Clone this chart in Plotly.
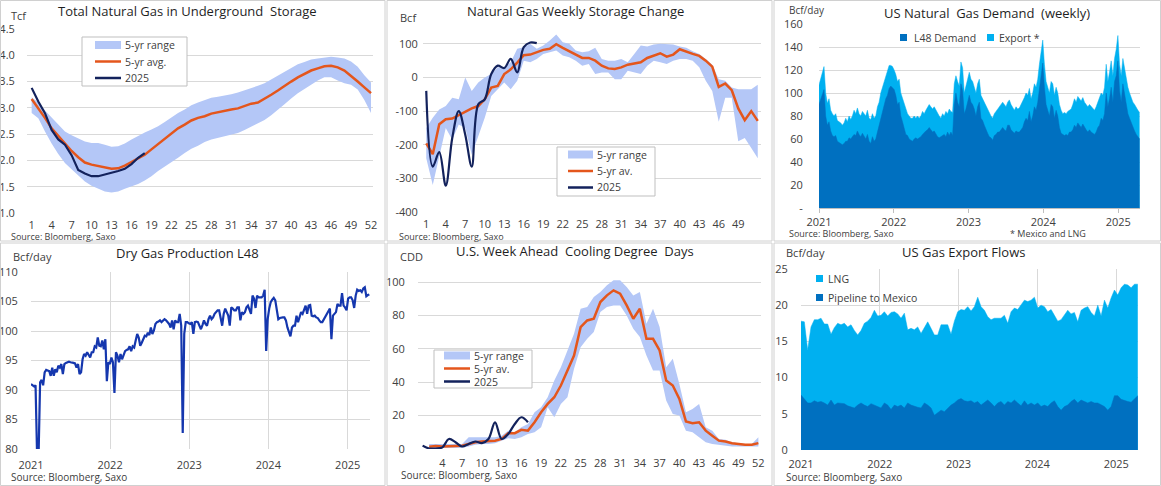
import numpy as np
import pandas as pd
import plotly.graph_objects as go

W, H = 1161, 486
FONT = "Open Sans"
TXT = "#404040"
TITLE = "#1F1F1F"
GRID = "#D9D9D9"
BAND = "#B4C7F7"
ORANGE = "#E4561C"
NAVY = "#13225C"
PROD = "#1537AE"
DARK = "#0070C0"
LIGHT = "#00B0F0"

# ---------------- data ----------------
weeks = list(range(1, 53))

# Total natural gas in underground storage (Tcf)
stor_avg = [3.17, 3.00, 2.81, 2.61, 2.46, 2.31, 2.18, 2.06, 1.96, 1.92,
            1.89, 1.86, 1.84, 1.85, 1.90, 1.97, 2.04, 2.11, 2.21, 2.31,
            2.40, 2.51, 2.61, 2.68, 2.76, 2.81, 2.84, 2.89, 2.92, 2.94,
            2.97, 2.99, 3.04, 3.08, 3.10, 3.17, 3.25, 3.33, 3.42, 3.50,
            3.58, 3.65, 3.71, 3.75, 3.79, 3.80, 3.77, 3.71, 3.61, 3.50,
            3.39, 3.28]
stor_hi = [3.20, 3.10, 2.95, 2.82, 2.68, 2.55, 2.48, 2.42, 2.36, 2.33,
           2.33, 2.30, 2.26, 2.27, 2.32, 2.40, 2.47, 2.53, 2.59, 2.65,
           2.73, 2.82, 2.90, 2.97, 3.05, 3.10, 3.14, 3.19, 3.21, 3.23,
           3.26, 3.29, 3.33, 3.38, 3.42, 3.47, 3.54, 3.61, 3.68, 3.76,
           3.83, 3.87, 3.92, 3.94, 3.95, 3.97, 3.96, 3.94, 3.88, 3.78,
           3.62, 3.48]
stor_lo = [2.90, 2.80, 2.55, 2.32, 2.12, 1.95, 1.83, 1.72, 1.60, 1.52,
           1.46, 1.41, 1.39, 1.41, 1.46, 1.50, 1.55, 1.62, 1.70, 1.80,
           1.88, 1.96, 2.05, 2.14, 2.22, 2.28, 2.35, 2.40, 2.43, 2.47,
           2.50, 2.52, 2.58, 2.64, 2.70, 2.77, 2.86, 2.96, 3.07, 3.18,
           3.28, 3.36, 3.44, 3.52, 3.58, 3.58, 3.52, 3.47, 3.44, 3.35,
           3.15, 2.90]
stor_2025 = [3.38, 3.12, 2.90, 2.58, 2.40, 2.30, 2.10, 1.82, 1.75, 1.70,
             1.70, 1.73, 1.76, 1.80, 1.84, 1.93, 2.05, 2.14]

# Weekly storage change (Bcf)
chg_avg = [-196, -228, -139, -124, -122, -112, -102, -92, -85, -65,
           -30, -25, 10, 24, 44, 66, 68, 76, 82, 85,
           99, 88, 78, 68, 58, 58, 50, 35, 27, 25,
           30, 38, 42, 45, 58, 64, 72, 62, 68, 84,
           76, 70, 64, 50, 32, -28, -18, -38, -92, -127,
           -100, -129]
chg_hi = [-150, -120, -95, -85, -60, -65, 0, -40, -15, 0,
          10, 30, 30, 45, 85, 90, 100, 85, 95, 110,
          128, 105, 100, 80, 75, 78, 88, 55, 50, 50,
          55, 45, 70, 95, 92, 98, 100, 98, 98, 92,
          88, 78, 70, 55, 38, -5, -10, -30, -35, -35,
          -35, -22]
chg_lo = [-240, -320, -235, -150, -185, -140, -150, -230, -175, -120,
          -55, -35, -15, -35, -10, 50, 45, 55, 70, 75,
          80, 65, 60, 50, 35, 40, 10, 15, 15, -5,
          -5, 20, 15, 10, 35, 50, 45, 40, 50, 55,
          55, 50, 30, -10, -40, -132, -60, -60, -190, -180,
          -210, -240]
chg_2025 = [-40, -265, -222, -322, -180, -100, -170, -265, -80, -65,
            10, 35, 28, 55, 15, 90, 104, 102]

# US natural gas demand, weekly samples Jan-2021 .. mid-Apr-2025 (Bcf/day)
dem_total = [107, 112, 116, 123, 100, 91, 95, 85, 82, 80,
             82, 76, 75, 74, 72, 74, 78, 75, 80, 77,
             80, 85, 82, 87, 82, 80, 84, 82, 80, 85,
             78, 77, 82, 78, 80, 88, 92, 100, 105, 110,
             115, 120, 124, 124, 123, 120, 116, 110, 112, 100,
             95, 90, 85, 82, 80, 78, 78, 80, 78, 80,
             78, 80, 84, 82, 85, 88, 90, 88, 86, 88,
             85, 83, 80, 78, 82, 80, 84, 82, 86, 84,
             83, 108, 115, 110, 106, 127, 122, 100, 105, 112,
             118, 112, 110, 105, 100, 108, 112, 98, 95, 92,
             88, 85, 82, 80, 78, 82, 84, 86, 88, 90,
             92, 90, 88, 92, 94, 90, 88, 85, 88, 86,
             87, 90, 92, 96, 100, 98, 104, 95, 100, 108,
             105, 112, 125, 135, 146, 125, 110, 105, 100, 110,
             108, 98, 105, 100, 90, 85, 82, 83, 82, 84,
             85, 86, 90, 95, 92, 97, 95, 93, 96, 92,
             90, 88, 90, 88, 86, 85, 88, 92, 95, 100,
             98, 105, 125, 110, 118, 128, 115, 130, 138, 150,
             125, 115, 130, 122, 112, 105, 100, 96, 92, 90,
             87, 85, 83]
dem_l48 = [90, 95, 98, 103, 80, 72, 75, 67, 63, 62,
           63, 58, 57, 56, 55, 56, 58, 58, 61, 60,
           62, 64, 63, 67, 64, 62, 65, 62, 60, 64,
           58, 56, 62, 58, 60, 66, 72, 78, 82, 88,
           95, 98, 104, 106, 104, 103, 98, 90, 92, 80,
           75, 70, 64, 63, 60, 59, 58, 60, 61, 60,
           61, 62, 64, 66, 67, 68, 70, 68, 66, 67,
           64, 62, 61, 62, 63, 64, 62, 66, 63, 66,
           63, 90, 100, 92, 88, 108, 102, 82, 86, 93,
           98, 92, 90, 86, 80, 88, 92, 78, 76, 72,
           68, 65, 62, 61, 59, 63, 64, 66, 66, 68,
           70, 68, 67, 72, 72, 68, 66, 65, 67, 66,
           66, 68, 70, 75, 78, 76, 84, 75, 80, 88,
           85, 92, 105, 115, 126, 105, 90, 85, 80, 90,
           88, 78, 85, 80, 70, 65, 64, 63, 64, 63,
           66, 66, 68, 72, 70, 74, 72, 70, 73, 70,
           68, 66, 68, 66, 65, 64, 66, 70, 72, 78,
           76, 82, 100, 88, 95, 105, 92, 110, 115, 128,
           102, 92, 108, 98, 88, 82, 78, 74, 70, 67,
           64, 62, 60]

# Dry gas production L48, weekly from 2021-01-01 (Bcf/day)
prod = [91.0, 90.8, 90.6, 90.8, 79.0, 79.0, 91.3, 91.7, 90.8, 93.0,
        93.4, 93.3, 93.2, 92.4, 93.8, 92.4, 93.5, 93.0, 94.1, 93.8,
        94.4, 92.7, 94.4, 94.6, 94.7, 94.8, 94.7, 94.7, 94.6, 94.5,
        93.8, 94.4, 92.7, 93.0, 95.2, 96.1, 95.8, 96.4, 95.8, 95.5,
        96.4, 96.4, 97.4, 97.2, 98.9, 97.5, 97.4, 98.4, 96.9, 98.6,
        91.5, 94.7, 94.4, 95.5, 94.7, 89.5, 96.4, 95.8, 94.7, 96.1,
        95.2, 96.0, 96.6, 96.8, 96.9, 97.4, 96.6, 97.4, 97.2, 98.4,
        99.5, 98.9, 97.5, 98.0, 98.6, 99.2, 99.1, 99.7, 99.3, 100.6,
        99.5, 100.1, 101.2, 101.5, 101.6, 101.8, 101.5, 101.8, 102.0, 101.8,
        101.5, 101.2, 100.6, 101.8, 100.3, 101.8, 101.5, 101.5, 102.9, 100.9,
        82.7, 99.5, 101.5, 101.5, 101.3, 101.2, 101.5, 99.5, 101.5, 101.6,
        101.5, 101.0, 100.3, 101.0, 101.8, 101.2, 100.9, 102.0, 102.6, 102.0,
        102.3, 102.9, 103.2, 103.5, 103.5, 102.0, 100.9, 102.9, 103.8, 103.2,
        102.6, 100.9, 104.0, 103.8, 103.5, 103.5, 104.0, 104.0, 101.8, 103.2,
        102.9, 103.2, 104.0, 104.3, 103.5, 102.9, 106.0, 105.5, 103.9, 106.0,
        105.7, 105.7, 105.7, 106.0, 107.0, 96.6, 102.0, 103.8, 104.9, 105.3,
        105.6, 105.2, 103.8, 102.0, 102.2, 102.3, 102.3, 102.3, 101.8, 100.6,
        99.7, 99.1, 100.6, 100.9, 100.9, 102.6, 101.5, 102.3, 103.2, 102.9,
        103.5, 104.3, 102.9, 104.3, 104.4, 102.6, 102.5, 102.6, 102.3, 102.2,
        101.8, 101.5, 101.5, 102.0, 102.5, 102.9, 103.5, 103.8, 98.6, 102.6,
        102.9, 103.2, 104.6, 104.3, 104.3, 106.4, 104.3, 104.0, 103.5, 105.5,
        105.7, 105.7, 105.2, 103.9, 106.0, 107.0, 106.8, 106.9, 106.6, 107.2,
        107.4, 105.9, 106.1, 106.2]

# US gas export flows, samples Jan-2021 .. Apr-2025 (Bcf/day)
exp_total = [17.8, 17.7, 13.8, 17.0, 18.0, 18.0, 18.2, 17.4, 17.4, 16.0,
             16.9, 17.5, 17.3, 17.5, 17.0, 17.3, 16.5, 15.9, 16.5, 17.5,
             17.8, 18.3, 19.3, 18.5, 18.6, 19.1, 18.5, 19.0, 19.1, 18.8,
             18.2, 18.9, 16.6, 16.8, 16.6, 17.0, 16.1, 17.0, 17.7, 16.8,
             15.9, 15.9, 17.3, 17.3, 17.3, 16.0, 17.8, 19.1, 19.4, 19.3,
             19.8, 19.2, 19.8, 21.1, 19.8, 19.3, 18.4, 18.0, 18.2, 18.2,
             18.2, 18.6, 17.5, 19.1, 19.6, 19.4, 20.0, 20.7, 20.5, 20.7,
             21.1, 19.6, 20.0, 19.8, 19.1, 19.4, 18.6, 17.8, 18.0, 18.7,
             19.3, 18.8, 19.0, 17.7, 19.3, 19.6, 19.8, 19.0, 18.5, 20.0,
             18.5, 20.7, 19.6, 21.0, 22.1, 21.4, 22.4, 22.9, 22.8, 22.4,
             22.9, 22.9]
exp_pipe = [7.6, 7.0, 6.5, 6.5, 6.8, 6.6, 6.7, 6.5, 6.2, 6.9,
            6.2, 6.5, 6.5, 6.4, 6.1, 6.0, 5.8, 6.2, 6.5, 6.2,
            6.0, 6.4, 6.2, 6.1, 5.8, 6.5, 6.2, 5.6, 6.2, 6.0,
            6.2, 5.8, 6.5, 6.2, 6.0, 5.9, 5.8, 6.5, 6.2, 5.8,
            4.8, 5.2, 5.5, 5.3, 5.8, 6.2, 6.5, 6.9, 7.1, 6.8,
            6.7, 6.8, 6.5, 6.7, 6.2, 6.5, 6.9, 6.5, 6.0, 6.5,
            6.7, 6.2, 6.7, 6.5, 6.9, 6.5, 6.1, 6.8, 6.2, 6.5,
            6.2, 6.5, 6.0, 6.2, 6.0, 6.5, 6.8, 6.0, 5.5, 6.0,
            6.2, 6.7, 7.0, 6.5, 6.9, 6.7, 6.5, 6.7, 6.5, 6.5,
            6.2, 6.0, 5.5, 6.0, 7.5, 7.5, 7.0, 6.8, 6.7, 6.6,
            7.0, 7.5]

# Week-ahead cooling degree days
cdd_weeks = list(range(2, 53))
cdd_avg = [1.4, 1.8, 1.5, 1.5, 1.8, 2.0,
           3.0, 4.0, 4.5, 4.8, 5.0, 6.0,
           9.5, 9.5, 11.5, 11, 16,
           22, 27, 31, 38, 47, 56, 73, 77, 78, 88,
           92, 95, 93, 86, 78, 84, 66, 66, 59, 41,
           38, 30, 16.5, 15.5, 16, 11, 8, 5, 4.5, 3.5,
           3, 2.5, 2.5, 3.5]
cdd_hi = [3, 3, 3, 3, 3, 3,
          7, 7, 7, 7, 7, 8,
          11, 10, 13, 15, 22,
          25, 31, 41, 49, 59, 69, 84, 85, 91, 94,
          98, 101, 101, 97, 92, 94, 75, 84, 73, 49,
          54, 39, 22, 24, 27, 13, 11, 6, 5.5, 4,
          3.5, 3, 3, 7]
cdd_lo = [0.5, 0.5, 0.5, 0.5, 0.5, 0.8,
          1.5, 2.5, 3, 3, 3.5, 5,
          6.5, 6, 7, 9, 10,
          13, 25, 19, 27, 31, 48, 61, 66, 70, 82,
          85, 86, 86, 80, 72, 67, 56, 47, 47, 29,
          21, 20, 11, 10, 7, 4, 3, 2.5, 2, 1.5,
          1.5, 1.5, 1.5, 1.5]
cdd_2025 = [2, 0.3, 0.3, 1.0, 6, 4, 1.5, 3, 4.5, 3.5, 6, 16, 6, 9, 15, 19, 16]

years = ["2021", "2022", "2023", "2024", "2025"]
year_starts = [y + "-01-01" for y in years]

prod_dates = pd.date_range("2021-01-01", periods=len(prod), freq="7D")
dem_dates = pd.date_range("2021-01-01", "2025-04-15", periods=len(dem_total))
exp_dates = pd.date_range("2021-01-01", "2025-04-11", periods=len(exp_total))


# ---------------- helpers ----------------
def dx(a, b):
    return [a / W, b / W]


def dy(top, bottom):
    return [1 - bottom / H, 1 - top / H]


def px(x):
    return x / W


def py(y):
    return 1 - y / H


TICKF = dict(family=FONT, size=11, color=TXT)

fig = go.Figure()


def band(x, lo, hi, n):
    fig.add_trace(go.Scatter(x=x, y=lo, mode="lines", line=dict(width=0),
                             hoverinfo="skip", xaxis="x" + n, yaxis="y" + n))
    fig.add_trace(go.Scatter(x=x, y=hi, mode="lines", line=dict(width=0),
                             fill="tonexty", fillcolor=BAND,
                             xaxis="x" + n, yaxis="y" + n))


def line(x, y, color, width, n, shape="linear"):
    fig.add_trace(go.Scatter(x=x, y=y, mode="lines",
                             line=dict(color=color, width=width, shape=shape),
                             xaxis="x" + n, yaxis="y" + n))


def area(x, y, color, n):
    fig.add_trace(go.Scatter(x=x, y=y, mode="lines", fill="tozeroy",
                             fillcolor=color, line=dict(color=color, width=0.5),
                             xaxis="x" + n, yaxis="y" + n))


# panel 1: storage
band(weeks, stor_lo, stor_hi, "")
line(weeks, stor_avg, ORANGE, 2.5, "")
line(weeks[:len(stor_2025)], stor_2025, NAVY, 2.2, "")

# panel 2: weekly change
band(weeks, chg_lo, chg_hi, "2")
line(weeks, chg_avg, ORANGE, 2.5, "2")
line(weeks[:len(chg_2025)], chg_2025, NAVY, 2.2, "2", "spline")

# panel 3: demand
area(dem_dates, dem_total, LIGHT, "3")
area(dem_dates, dem_l48, DARK, "3")

# panel 4: production
line(prod_dates, prod, PROD, 2.2, "4")

# panel 5: CDD
band(cdd_weeks, cdd_lo, cdd_hi, "5")
line(cdd_weeks, cdd_avg, ORANGE, 2.5, "5")
line(weeks[:len(cdd_2025)], cdd_2025, NAVY, 2.2, "5", "spline")

# panel 6: exports
area(exp_dates, exp_total, LIGHT, "6")
area(exp_dates, exp_pipe, DARK, "6")


def xcat(domain, anchor, rng, vals, tl=4):
    return dict(domain=domain, anchor=anchor, range=rng, tickmode="array",
                tickvals=vals, showgrid=False, zeroline=False, showline=False,
                ticks="outside", ticklen=tl, tickcolor="rgba(0,0,0,0)",
                tickfont=TICKF, automargin=False)


def xdate(domain, anchor, rng, grid, tl=5):
    d = dict(domain=domain, anchor=anchor, type="date", range=rng,
             tickmode="array", tickvals=year_starts, ticktext=years,
             showgrid=grid, gridcolor=GRID, zeroline=False, tickfont=TICKF,
             automargin=False)
    if grid:
        d.update(ticks="outside", ticklen=tl, tickcolor="rgba(0,0,0,0)", showline=False)
    else:
        d.update(ticks="outside", ticklen=tl, tickcolor="#BFBFBF",
                 showline=True, linecolor="#BFBFBF")
    return d


def yax(domain, anchor, rng, vals, text, standoff=9):
    return dict(domain=domain, anchor=anchor, range=rng, tickmode="array",
                tickvals=vals, ticktext=text, gridcolor=GRID, zeroline=False,
                showline=False, ticks="outside", ticklen=standoff,
                tickcolor="rgba(0,0,0,0)", tickfont=TICKF, automargin=False)


p1_y = [1.0 + 0.5 * i for i in range(8)]
p2_y = [-400, -300, -200, -100, 0, 100]
p3_y = list(range(0, 161, 20))
p4_y = list(range(80, 111, 5))
p5_y = list(range(0, 101, 20))
p6_y = list(range(0, 26, 5))

fig.update_layout(
    width=W, height=H,
    margin=dict(l=0, r=0, t=0, b=0, pad=0, autoexpand=False),
    paper_bgcolor="white", plot_bgcolor="white", showlegend=False,
    font=dict(family=FONT, size=11, color=TXT),
    xaxis=xcat(dx(27, 373), "y", [0.3, 52.3], list(range(1, 53, 3)), 2),
    yaxis=yax(dy(29, 213), "x", [1.0, 4.5], p1_y, [f"{v:.1f}" for v in p1_y], 9),
    xaxis2=xcat(dx(423, 761), "y2", [0.5, 52.5], list(range(1, 50, 3)), 2),
    yaxis2=yax(dy(27, 212), "x2", [-400, 150], p2_y, [str(v) for v in p2_y], 2),
    xaxis3=xdate(dx(819, 1140), "y3", ["2021-01-01", "2025-04-17"], False, 4),
    yaxis3=yax(dy(24, 208), "x3", [0, 160], p3_y, ["-"] + [str(v) for v in p3_y[1:]], 13),
    xaxis4=xdate(dx(31, 370), "y4", ["2021-01-01", "2025-04-14"], True, 6),
    yaxis4=yax(dy(272, 449), "x4", [80, 110], p4_y, [str(v) for v in p4_y], 10),
    xaxis5=xcat(dx(418, 761), "y5", [0.3, 52.4], list(range(4, 53, 3)), 4),
    yaxis5=yax(dy(272, 449), "x5", [0, 106], p5_y, [str(v) for v in p5_y], 10),
    xaxis6=xdate(dx(801, 1138), "y6", ["2021-01-01", "2025-04-12"], True, 4),
    yaxis6=yax(dy(269, 450), "x6", [0, 25], p6_y, [str(v) for v in p6_y], 10),
)

shapes = []
annos = []


def rect(x0, y0, x1, y1, line_color=None, fill=None):
    shapes.append(dict(type="rect", xref="paper", yref="paper",
                       x0=px(x0), x1=px(x1), y0=py(y1), y1=py(y0),
                       line=dict(color=line_color or "rgba(0,0,0,0)", width=1),
                       fillcolor=fill or "rgba(0,0,0,0)", layer="above"))


def seg(x0, x1, y, color, width):
    shapes.append(dict(type="line", xref="paper", yref="paper",
                       x0=px(x0), x1=px(x1), y0=py(y), y1=py(y),
                       line=dict(color=color, width=width), layer="above"))


def text(x, y, s, size, anchor="left", color=TXT):
    annos.append(dict(x=px(x), y=py(y), xref="paper", yref="paper", text=s,
                      showarrow=False, xanchor=anchor, yanchor="middle",
                      font=dict(family=FONT, size=size, color=color)))


# panel frames
for x0, x1 in [(0.5, 385), (387, 772), (774, 1160.5)]:
    rect(x0, 0.5, x1, 241, "#D0D0D0")
    rect(x0, 243, x1, 485.5, "#D0D0D0")


def range_legend(x0, y0, x1, y1, sx0, sx1, tx, ys, labels):
    rect(x0, y0, x1, y1, "#BFBFBF", "white")
    shapes.append(dict(type="rect", xref="paper", yref="paper",
                       x0=px(sx0), x1=px(sx1), y0=py(ys[0] + 4), y1=py(ys[0] - 4),
                       line=dict(width=0), fillcolor=BAND, layer="above"))
    seg(sx0, sx1, ys[1], ORANGE, 2.5)
    seg(sx0, sx1, ys[2], NAVY, 2.5)
    for yy, lab in zip(ys, labels):
        text(tx, yy, lab, 10.5)


range_legend(82, 37, 187, 86, 95, 121, 123, [45, 61.5, 78], ["5-yr range", "5-yr avg.", "2025"])
range_legend(557, 147, 655, 196, 568, 593, 595, [154.5, 171, 187.5], ["5-yr range", "5-yr av.", "2025"])
range_legend(434, 350, 532, 388, 444, 470, 472, [355.5, 368.5, 381.5], ["5-yr range", "5-yr av.", "2025"])

# square legends
rect(900, 34, 907, 41, None, DARK)
text(912, 37.5, "L48 Demand", 10.5)
rect(987, 34, 994, 41, None, LIGHT)
text(997, 37.5, "Export *", 10.5)

rect(816, 275, 823, 282, None, LIGHT)
text(826, 278.5, "LNG", 10.5)
rect(816, 294, 823, 301, None, DARK)
text(826, 297.5, "Pipeline to Mexico", 10.5)

# titles
text(187, 11, "Total Natural Gas in Underground  Storage", 13, "center", TITLE)
text(575, 11, "Natural Gas Weekly Storage Change", 13, "center", TITLE)
text(987, 13, "US Natural  Gas Demand  (weekly)", 13, "center", TITLE)
text(187, 253, "Dry Gas Production L48", 13, "center", TITLE)
text(575, 251, "U.S. Week Ahead  Cooling Degree  Days", 13, "center", TITLE)
text(963, 252, "US Gas Export Flows", 13, "center", TITLE)

# unit labels
text(9, 16, "Tcf", 11)
text(398, 17, "Bcf", 11)
text(787, 10, "Bcf/day", 10)
text(11, 256, "Bcf/day", 11)
text(398, 256, "CDD", 11)
text(784, 252, "Bcf/day", 11)

# sources
text(9, 236, "Source: Bloomberg, Saxo", 9)
text(397, 236, "Source: Bloomberg, Saxo", 9)
text(787, 233.5, "Source: Bloomberg, Saxo", 9)
text(1008, 233.5, "* Mexico and LNG", 9)
text(9, 477, "Source: Bloomberg, Saxo", 10)
text(399, 475, "Source: Bloomberg, Saxo", 10)
text(784, 477, "Source: Bloomberg, Saxo", 10)

fig.update_layout(shapes=shapes, annotations=annos)

fig.write_html("out.html", config={"displayModeBar": False},
               post_script="document.body.style.margin = '0';")
